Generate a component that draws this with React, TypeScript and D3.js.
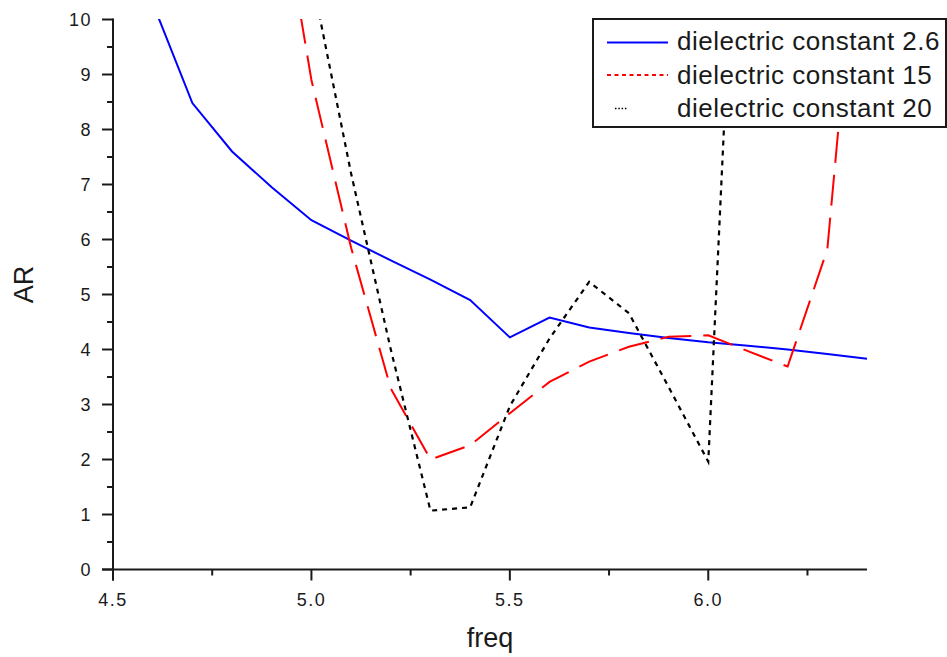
import React from "react";
import * as d3 from "d3";

// ---- data ----
const freq26 = [4.6, 4.7, 4.8, 4.9, 5.0, 5.1, 5.2, 5.3, 5.4, 5.5, 5.6, 5.7, 5.8, 5.9, 6.0, 6.1, 6.2, 6.3, 6.4];
const ar26 = [10.3, 8.48, 7.6, 6.95, 6.35, 5.98, 5.62, 5.27, 4.9, 4.22, 4.58, 4.4, 4.3, 4.21, 4.13, 4.07, 4.0, 3.92, 3.83];

const freq15 = [4.9, 5.0, 5.1, 5.2, 5.3, 5.4, 5.5, 5.6, 5.7, 5.8, 5.9, 6.0, 6.1, 6.2, 6.3, 6.4];
const ar15 = [13.2, 8.9, 5.85, 3.29, 2.0, 2.26, 2.84, 3.41, 3.78, 4.05, 4.23, 4.26, 3.97, 3.69, 5.82, 13.7];

const freq20 = [5.0, 5.1, 5.2, 5.3, 5.4, 5.5, 5.6, 5.7, 5.8, 5.9, 6.0, 6.1];
const ar20 = [10.8, 7.2, 4.0, 1.07, 1.13, 2.97, 4.2, 5.23, 4.66, 3.32, 1.96, 17.3];

const seriesNames = ["dielectric constant 2.6", "dielectric constant 15", "dielectric constant 20"];

const xTickValues = [4.5, 5.0, 5.5, 6.0];
const xTickLabels = ["4.5", "5.0", "5.5", "6.0"];
const xMinorTicks = [4.75, 5.25, 5.75, 6.25];
const yTickValues = [0, 1, 2, 3, 4, 5, 6, 7, 8, 9, 10];
const yTickLabels = ["0", "1", "2", "3", "4", "5", "6", "7", "8", "9", "10"];
const yMinorTicks = [0.5, 1.5, 2.5, 3.5, 4.5, 5.5, 6.5, 7.5, 8.5, 9.5];

const xTitle = "freq";
const yTitle = "AR";

const FONT = "'Liberation Sans', Arial, Helvetica, sans-serif";

export default function App() {
  const W = 947;
  const H = 657;
  const left = 113;
  const right = 867;
  const top = 19.5;
  const bottom = 569.5;

  const x = d3.scaleLinear().domain([4.5, 6.4]).range([left, right]);
  const y = d3.scaleLinear().domain([0, 10]).range([bottom, top]);

  const mk = (xs: number[], ys: number[]) =>
    d3
      .line<number>()
      .x((_, i) => x(xs[i]))
      .y((d) => y(d))(ys) || "";

  const p26 = mk(freq26, ar26);
  const p15 = mk(freq15, ar15);
  const p20 = mk(freq20, ar20);

  const axisColor = "#1a1a1a";
  const textColor = "#1a1a1a";

  const legX = 593;
  const legY = 19;
  const legW = 353;
  const legH = 108;
  const rows = [42.5, 75, 108.5];
  const baselines = [50, 83.5, 117];

  return (
    <svg
      width={W}
      height={H}
      style={{ position: "absolute", left: 0, top: 0, background: "#fff" }}
      xmlns="http://www.w3.org/2000/svg"
    >
      <defs>
        <clipPath id="plotClip">
          <rect x={left} y={top - 0.5} width={right - left + 1} height={bottom - top + 1} />
        </clipPath>
      </defs>
      <rect x={0} y={0} width={W} height={H} fill="#fff" />

      {/* data lines */}
      <g clipPath="url(#plotClip)" fill="none" strokeLinejoin="miter">
        <path d={p26} stroke="#0000ff" strokeWidth={2} />
        <path d={p15} stroke="#ff0000" strokeWidth={2} strokeDasharray="31,12" />
        <path d={p20} stroke="#000000" strokeWidth={2.2} strokeDasharray="5,5" />
      </g>

      {/* axes */}
      <g stroke={axisColor} strokeWidth={2} fill="none">
        <line x1={left} y1={top - 1} x2={left} y2={bottom + 11} />
        <line x1={left - 11} y1={bottom} x2={right} y2={bottom} />
        {yTickValues.map((v) => (
          <line key={"yt" + v} x1={left - 11} y1={y(v)} x2={left} y2={y(v)} />
        ))}
        {yMinorTicks.map((v) => (
          <line key={"ym" + v} x1={left - 6} y1={y(v)} x2={left} y2={y(v)} />
        ))}
        {xTickValues.map((v) => (
          <line key={"xt" + v} x1={x(v)} y1={bottom} x2={x(v)} y2={bottom + 11} />
        ))}
        {xMinorTicks.map((v) => (
          <line key={"xm" + v} x1={x(v)} y1={bottom} x2={x(v)} y2={bottom + 6} />
        ))}
      </g>

      {/* tick labels */}
      <g fontFamily={FONT} fontSize={18} fill={textColor} letterSpacing={1.5}>
        {yTickValues.map((v, i) => (
          <text key={"yl" + v} x={92} y={y(v)} textAnchor="end" dominantBaseline="central">
            {yTickLabels[i]}
          </text>
        ))}
        {xTickValues.map((v, i) => (
          <text key={"xl" + v} x={x(v)} y={600} textAnchor="middle" dominantBaseline="central">
            {xTickLabels[i]}
          </text>
        ))}
      </g>

      {/* axis titles */}
      <text x={490} y={647} textAnchor="middle" fontFamily={FONT} fontSize={27} fill={textColor}>
        {xTitle}
      </text>
      <text
        transform="translate(33,284.5) rotate(-90)"
        textAnchor="middle"
        fontFamily={FONT}
        fontSize={27}
        fill={textColor}
      >
        {yTitle}
      </text>

      {/* legend */}
      <g>
        <rect x={legX} y={legY} width={legW} height={legH} fill="#fff" stroke={axisColor} strokeWidth={2} />
        <line x1={607} y1={rows[0]} x2={668} y2={rows[0]} stroke="#0000ff" strokeWidth={2} />
        <line x1={607} y1={rows[1]} x2={668} y2={rows[1]} stroke="#ff0000" strokeWidth={2} strokeDasharray="4,3.5" />
        <line x1={615} y1={rows[2]} x2={627} y2={rows[2]} stroke="#000000" strokeWidth={1.5} strokeDasharray="1.5,1.8" />
        {seriesNames.map((s, i) => (
          <text
            key={s}
            x={677}
            y={baselines[i]}
            fontFamily={FONT}
            fontSize={26}
            letterSpacing={0.5}
            fill={textColor}
          >
            {s}
          </text>
        ))}
      </g>
    </svg>
  );
}
